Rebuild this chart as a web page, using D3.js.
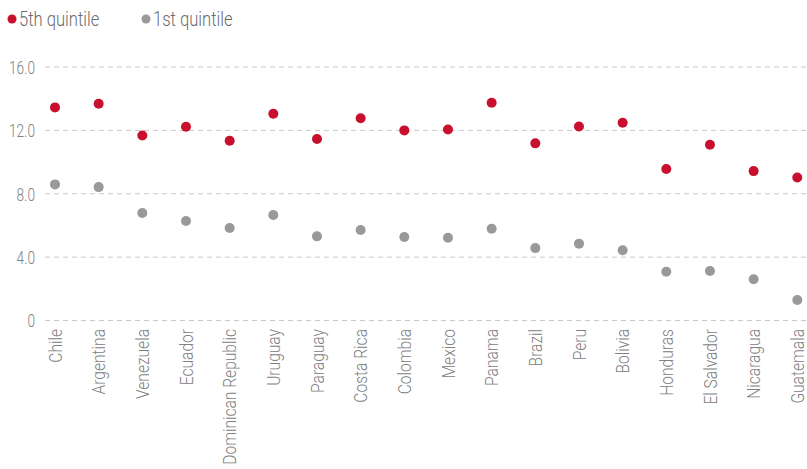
<!DOCTYPE html>
<html><head><meta charset="utf-8">
<script src="https://cdn.jsdelivr.net/npm/d3@7"></script>
<style>
body{margin:0;background:#fff;}
text{font-family:"Roboto",sans-serif;font-weight:300;}
</style></head>
<body><svg id="c" width="807" height="469"></svg>
<script>
const countries=["Chile","Argentina","Venezuela","Ecuador","Dominican Republic","Uruguay","Paraguay","Costa Rica","Colombia","Mexico","Panama","Brazil","Peru","Bolivia","Honduras","El Salvador","Nicaragua","Guatemala"];
const q5=[13.45,13.68,11.68,12.23,11.34,13.05,11.45,12.76,12.0,12.06,13.74,11.18,12.25,12.48,9.56,11.09,9.43,9.03];
const q1=[8.59,8.42,6.78,6.28,5.84,6.66,5.31,5.71,5.27,5.22,5.79,4.57,4.85,4.43,3.08,3.12,2.6,1.29];
const yTicks=[0,4,8,12,16];
const seriesNames=["5th quintile","1st quintile"];
const colors=["#c8102e","#999999"];

const svg=d3.select("#c");
const x=d3.scalePoint().domain(countries).range([55,797.3]);
const y=d3.scaleLinear().domain([0,16]).range([320.5,67]);

const yAxis=d3.axisLeft(y).tickValues(yTicks).tickFormat(d=>d===0?"0":d3.format(".1f")(d)).tickSize(0).tickPadding(10);
const gy=svg.append("g").attr("transform","translate(45,0)").call(yAxis);
gy.select(".domain").remove();
gy.selectAll("text").attr("fill","#808080").style("font-size","18px").attr("dy","0.35em")
  .attr("x",0).attr("transform","translate(-10,0) scale(0.76,1)");
svg.append("g").selectAll("line").data(yTicks).join("line")
  .attr("x1",45).attr("x2",807).attr("y1",d=>y(d)).attr("y2",d=>y(d))
  .attr("stroke","#c8c8c8").attr("stroke-dasharray","5,4").attr("stroke-width",1);

const xAxis=d3.axisBottom(x).tickSize(0).tickPadding(0);
const gx=svg.append("g").attr("transform","translate(0,329)").call(xAxis);
gx.select(".domain").remove();
gx.selectAll("text").attr("fill","#808080").style("font-size","19px")
  .attr("text-anchor","end").attr("transform","rotate(-90) scale(0.82,1)").attr("x",0).attr("y",0).attr("dy","0.33em");

[q5,q1].forEach((s,i)=>{
  svg.append("g").selectAll("circle").data(s).join("circle")
    .attr("cx",(d,j)=>x(countries[j])).attr("cy",d=>y(d)).attr("r",5).attr("fill",colors[i]);
});

const leg=svg.append("g");
const legX=[12,146];
seriesNames.forEach((n,i)=>{
  leg.append("circle").attr("cx",legX[i]).attr("cy",19).attr("r",4.5).attr("fill",colors[i]);
  leg.append("text").attr("transform",`translate(${legX[i]+7},19) scale(0.83,1)`).attr("dy","0.35em")
    .attr("fill","#6b6b6b").style("font-size","20px").text(n);
});
</script></body></html>
